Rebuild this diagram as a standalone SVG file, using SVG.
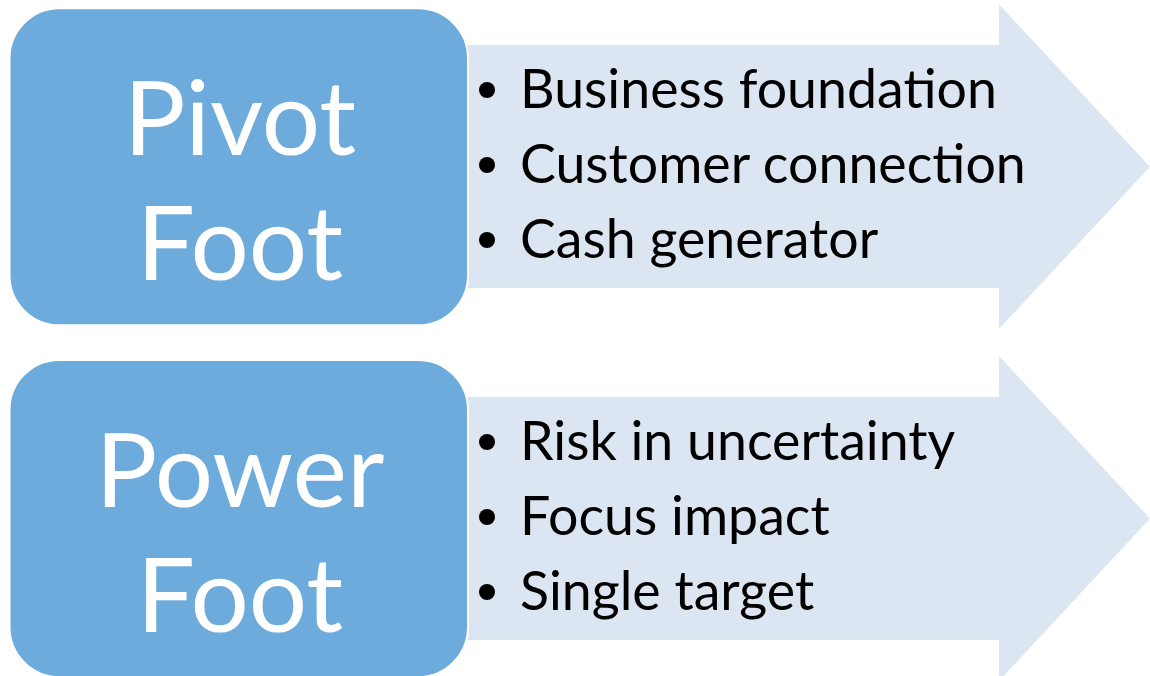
<svg xmlns="http://www.w3.org/2000/svg" width="1150" height="676" viewBox="0 0 1150 676">
<style>
.arrow{fill:#DCE6F2;}
.box{fill:#6CABDC;stroke:#FFFFFF;stroke-width:2;}
.title{font-family:Lato,"Liberation Sans",sans-serif;font-size:103px;fill:#FFFFFF;text-anchor:middle;}
.item{font-family:Lato,"Liberation Sans",sans-serif;font-size:53.7px;fill:#000000;}
.bullet{fill:#000000;}
</style>
<rect width="1150" height="676" fill="#FFFFFF"/>
<g id="connectors">
<path id="arrow1" class="arrow" d="M300,45 H999 V4.3 L1150,166.7 L999,329 V288 H300 Z"/>
<path id="arrow2" class="arrow" d="M300,397 H999 V356 L1150,518.5 L999,681 V640 H300 Z"/>
</g>
<g id="pivot">
<rect class="box" x="9.5" y="8.3" width="458.5" height="317" rx="50" ry="50"/>
<text class="title" x="240" y="155">Pivot</text>
<text class="title" x="240" y="280">Foot</text>
</g>
<g id="pivot-list">
<circle class="bullet" cx="487" cy="90" r="8"/>
<circle class="bullet" cx="487" cy="165" r="8"/>
<circle class="bullet" cx="487" cy="240" r="8"/>
<text class="item" x="520" y="108">Business foundation</text>
<text class="item" x="520" y="183">Customer connection</text>
<text class="item" x="520" y="258">Cash generator</text>
</g>
<g id="power">
<rect class="box" x="9.5" y="360" width="458.5" height="317" rx="50" ry="50"/>
<text class="title" x="240" y="507">Power</text>
<text class="title" x="240" y="632">Foot</text>
</g>
<g id="power-list">
<circle class="bullet" cx="487" cy="442" r="8"/>
<circle class="bullet" cx="487" cy="517" r="8"/>
<circle class="bullet" cx="487" cy="592" r="8"/>
<text class="item" x="520" y="460">Risk in uncertainty</text>
<text class="item" x="520" y="535">Focus impact</text>
<text class="item" x="520" y="610">Single target</text>
</g>
</svg>
